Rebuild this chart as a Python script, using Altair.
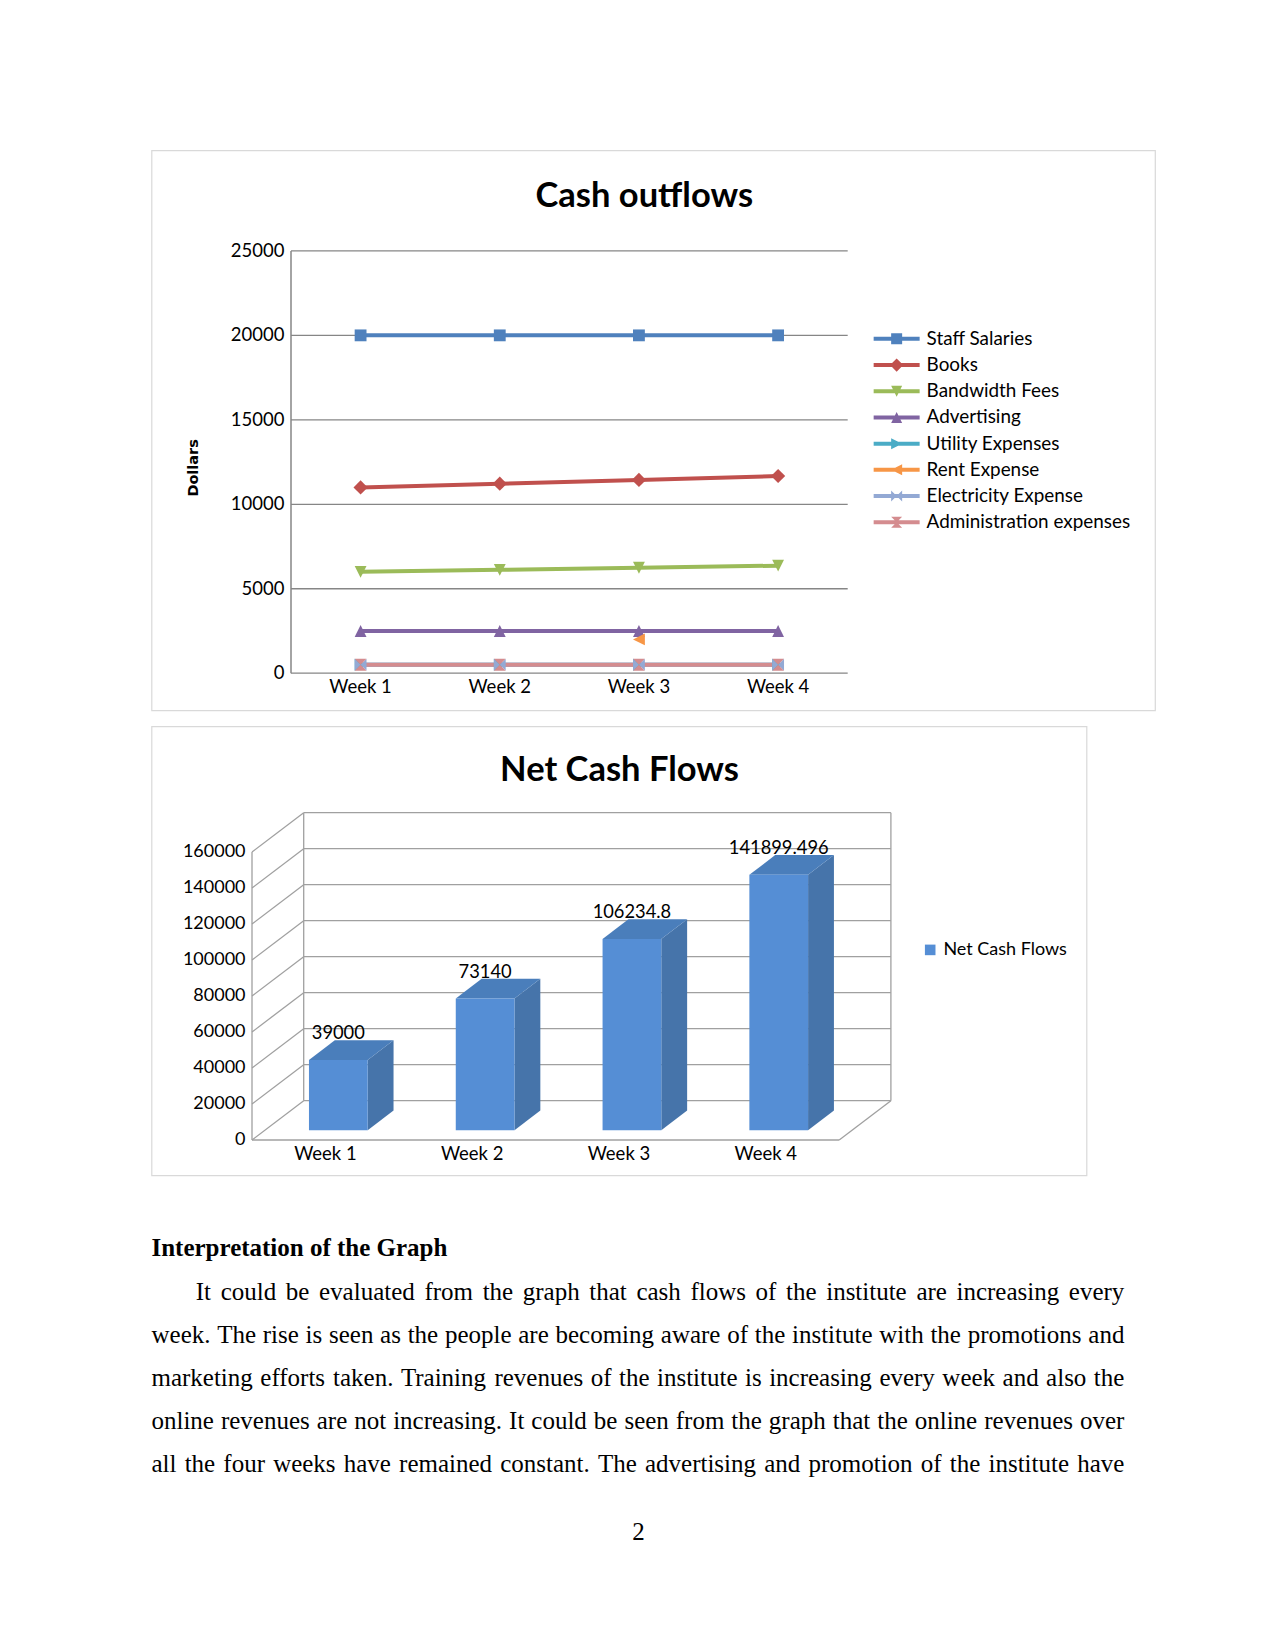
import altair as alt
import pandas as pd

# ---------------- data ----------------
weeks = ["Week 1", "Week 2", "Week 3", "Week 4"]
series_names = ["Staff Salaries", "Books", "Bandwidth Fees", "Advertising",
                "Utility Expenses", "Rent Expense", "Electricity Expense",
                "Administration expenses"]
staff_salaries = [20000, 20000, 20000, 20000]
books = [11000, 11220, 11444, 11673]
bandwidth_fees = [6000, 6120, 6242, 6367]
advertising = [2500, 2500, 2500, 2500]
utility_expenses = [500, 500, 500, 500]
rent_expense = [None, None, 2000, None]
electricity_expense = [500, 500, 500, 500]
administration_expenses = [500, 500, 500, 500]
series_values = [staff_salaries, books, bandwidth_fees, advertising,
                 utility_expenses, rent_expense, electricity_expense,
                 administration_expenses]
series_colors = ["#4F81BD", "#C0504D", "#9BBB59", "#8064A2",
                 "#4BACC6", "#F79646", "#93A9D4", "#D48C8F"]
y1_ticks = [0, 5000, 10000, 15000, 20000, 25000]
title1 = "Cash outflows"
ytitle1 = "Dollars"

net_cash_flows = [39000, 73140, 106234.8, 141899.496]
y2_ticks = [0, 20000, 40000, 60000, 80000, 100000, 120000, 140000, 160000]
title2 = "Net Cash Flows"

heading = "Interpretation of the Graph"
body_lines = [
    "It could be evaluated from the graph that cash flows of the institute are increasing every",
    "week. The rise is seen as the people are becoming aware of the institute with the promotions and",
    "marketing efforts taken. Training revenues of the institute is increasing every week and also the",
    "online revenues are not increasing. It could be seen from the graph that the online revenues over",
    "all the four weeks have remained constant. The advertising and promotion of the institute have",
]
page_number = "2"

# ---------------- styles ----------------
FONT = "Lato"
GRID = "#868686"
# all sub-paths wound the same way so that they fill solidly when combined
marker_paths = [
    "M-1,-1H1V1H-1Z",                          # square
    "M0,-1.2L1.2,0L0,1.2L-1.2,0Z",             # diamond
    "M-1,-1H1L0,1Z",                           # triangle down
    "M-1,1L0,-1L1,1Z",                         # triangle up
    "M-1,-1L1,0L-1,1Z",                        # triangle right
    "M1,-1L1,1L-1,0Z",                         # triangle left
    "M-1,-1L0,0L-1,1Z M1,-1L1,1L0,0Z",         # bow tie
    "M-1,-1H1L0,0Z M0,0L1,1H-1Z",              # hourglass
]
LEG_LINE = "M-4.18,-0.36H4.18V0.36H-4.18Z"
legend_paths = [LEG_LINE + " " + p for p in marker_paths]

# ---------------- chart 1: Cash outflows ----------------
W1, H1 = 1003.5, 560
rows = []
for name, vals in zip(series_names, series_values):
    for wi, (w, v) in enumerate(zip(weeks, vals)):
        if v is not None:
            rows.append({"wi": wi, "week": w, "series": name,
                         "series_leg": name, "value": v})
df1 = pd.DataFrame(rows)

xs1 = alt.Scale(domain=[-0.5, 3.5], range=[139.5, 696.2], nice=False, zero=False)
ys1 = alt.Scale(domain=[0, 25000], range=[522.8, 100.5], nice=False, zero=False)
color1 = alt.Scale(domain=series_names, range=series_colors)
shape1 = alt.Scale(domain=series_names, range=marker_paths)
shape_leg = alt.Scale(domain=series_names, range=legend_paths)

legend1 = alt.Legend(
    title=None, orient="none", legendX=735.7, legendY=179, padding=0,
    labelFont=FONT, labelFontSize=18.9, labelColor="black", labelLimit=400,
    symbolSize=121, labelOffset=20.5, rowPadding=6.2, symbolStrokeWidth=0,
    symbolOpacity=1,
)

X1 = lambda f: alt.X(f, scale=xs1, axis=None)
Y1 = lambda f: alt.Y(f, scale=ys1, axis=None)

grid1 = alt.Chart(pd.DataFrame({"v": y1_ticks, "xa": -0.5, "xb": 3.5})).mark_rule(
    color=GRID, strokeWidth=1.3).encode(x=X1("xa:Q"), x2="xb:Q", y=Y1("v:Q"))
yline1 = alt.Chart(pd.DataFrame({"x": [-0.5], "ya": [0], "yb": [y1_ticks[-1]]})).mark_rule(
    color=GRID, strokeWidth=1.5).encode(x=X1("x:Q"), y=Y1("ya:Q"), y2="yb:Q")
ylab1 = alt.Chart(pd.DataFrame({"v": y1_ticks, "x": -0.5,
                                "t": [str(t) for t in y1_ticks]})).mark_text(
    font=FONT, fontSize=18.5, color="black", align="right", baseline="middle",
    dx=-6.6).encode(x=X1("x:Q"), y=Y1("v:Q"), text="t:N")
xlab1 = alt.Chart(pd.DataFrame({"wi": range(4), "v": 0, "t": weeks})).mark_text(
    font=FONT, fontSize=18.5, color="black", align="center", baseline="middle",
    dy=13.7).encode(x=X1("wi:Q"), y=Y1("v:Q"), text="t:N")
ttl1 = alt.Chart(pd.DataFrame({"t": [title1]})).mark_text(
    font=FONT, fontSize=34.5, fontWeight="bold", color="black", align="center",
    baseline="middle").encode(x=alt.value(492.8), y=alt.value(46.4), text="t:N")
ytl1 = alt.Chart(pd.DataFrame({"t": [ytitle1]})).mark_text(
    font="DejaVu Sans", fontSize=14.5, fontWeight="bold", color="black",
    align="center", baseline="middle", angle=270).encode(
    x=alt.value(42.5), y=alt.value(317.5), text="t:N")

lines1 = alt.Chart(df1).mark_line(strokeWidth=4).encode(
    x=X1("wi:Q"), y=Y1("value:Q"),
    color=alt.Color("series:N", scale=color1, sort=series_names, legend=None),
    detail="series:N",
)
points1 = alt.Chart(df1).mark_point(filled=True, size=140, opacity=1).encode(
    x=X1("wi:Q"), y=Y1("value:Q"),
    color=alt.Color("series:N", scale=color1, sort=series_names, legend=None),
    shape=alt.Shape("series:N", scale=shape1, sort=series_names, legend=None),
)
legend_layer = alt.Chart(df1).mark_point(filled=True, size=121, opacity=0).encode(
    x=X1("wi:Q"), y=Y1("value:Q"),
    color=alt.Color("series_leg:N", scale=color1, sort=series_names, legend=legend1),
    shape=alt.Shape("series_leg:N", scale=shape_leg, sort=series_names, legend=legend1),
)

chart1 = alt.layer(grid1, yline1, ylab1, xlab1, ttl1, ytl1,
                   lines1, points1, legend_layer).resolve_scale(
    color="independent", shape="independent"
).properties(
    width=W1, height=H1,
    view=alt.ViewBackground(stroke="#D9D9D9", strokeWidth=1.2),
)

# ---------------- chart 2: Net Cash Flows (3-D columns) ----------------
W2, H2 = 935, 449
DX = 0.3522     # depth offset in category units
DY = 21833.0    # depth offset in dollar units

def fmt(v):
    return ("%f" % v).rstrip("0").rstrip(".")

front = pd.DataFrame({
    "week": weeks,
    "series": ["Net Cash Flows"] * 4,
    "x0": [i + 0.3 + 0.25 * DX for i in range(4)],
    "x1": [i + 0.7 + 0.25 * DX for i in range(4)],
    "y0": [0.25 * DY] * 4,
    "y1": [v + 0.25 * DY for v in net_cash_flows],
})
top_rows, side_rows = [], []
for i, (w, v) in enumerate(zip(weeks, net_cash_flows)):
    for d in (0.25, 0.75):
        top_rows.append({"week": w, "y": v + d * DY,
                         "xa": i + 0.3 + d * DX, "xb": i + 0.7 + d * DX})
        side_rows.append({"week": w, "x": i + 0.7 + d * DX,
                          "ya": d * DY, "yb": v + d * DY})
top = pd.DataFrame(top_rows)
side = pd.DataFrame(side_rows)
labels2 = pd.DataFrame({
    "x": [i + 0.5 + 0.25 * DX for i in range(4)],
    "y": [v + 0.75 * DY for v in net_cash_flows],
    "label": [fmt(v) for v in net_cash_flows],
})

wall_rows = []
for t in y2_ticks:
    wall_rows.append({"xa": 0, "xb": DX, "ya": t, "yb": t + DY})
    wall_rows.append({"xa": DX, "xb": 4 + DX, "ya": t + DY, "yb": t + DY})
wall_rows.append({"xa": DX, "xb": DX, "ya": DY, "yb": y2_ticks[-1] + DY})
wall_rows.append({"xa": 4 + DX, "xb": 4 + DX, "ya": DY, "yb": y2_ticks[-1] + DY})
wall_rows.append({"xa": 4, "xb": 4 + DX, "ya": 0, "yb": DY})
wall_rows.append({"xa": 0, "xb": 0, "ya": 0, "yb": y2_ticks[-1]})
wall_rows.append({"xa": 0, "xb": 4, "ya": 0, "yb": 0})
walls = pd.DataFrame(wall_rows)

xs2 = alt.Scale(domain=[0, 4], range=[100.5, 687.7], nice=False, zero=False)
ys2 = alt.Scale(domain=[0, 160000], range=[413.6, 125.6], nice=False, zero=False)
X2 = lambda f: alt.X(f, scale=xs2, axis=None)
Y2 = lambda f: alt.Y(f, scale=ys2, axis=None)
WALL = "#A0A0A0"

walls_layer = alt.Chart(walls).mark_rule(color=WALL, strokeWidth=1.3).encode(
    x=X2("xa:Q"), x2="xb:Q", y=Y2("ya:Q"), y2="yb:Q",
)
ylab2 = alt.Chart(pd.DataFrame({"v": y2_ticks, "x": 0,
                                "t": [str(t) for t in y2_ticks]})).mark_text(
    font=FONT, fontSize=18, color="black", align="right", baseline="middle",
    dx=-6.5).encode(x=X2("x:Q"), y=Y2("v:Q"), text="t:N")
xlab2 = alt.Chart(pd.DataFrame({"x": [i + 0.5 for i in range(4)], "v": 0,
                                "t": weeks})).mark_text(
    font=FONT, fontSize=18.5, color="black", align="center", baseline="middle",
    dy=14).encode(x=X2("x:Q"), y=Y2("v:Q"), text="t:N")
ttl2 = alt.Chart(pd.DataFrame({"t": [title2]})).mark_text(
    font=FONT, fontSize=34.5, fontWeight="bold", color="black", align="center",
    baseline="middle").encode(x=alt.value(468), y=alt.value(44.2), text="t:N")

side_layer = alt.Chart(side).mark_area(orient="vertical", color="#4674AA",
                                       opacity=1).encode(
    x=X2("x:Q"), y=Y2("yb:Q"), y2="ya:Q", detail="week:N",
)
top_layer = alt.Chart(top).mark_area(orient="horizontal", color="#4A7EBB",
                                     opacity=1).encode(
    y=Y2("y:Q"), x=X2("xa:Q"), x2="xb:Q", detail="week:N",
)
front_layer = alt.Chart(front).mark_rect(opacity=1).encode(
    x=X2("x0:Q"), x2="x1:Q", y=Y2("y0:Q"), y2="y1:Q",
    color=alt.Color("series:N",
                    scale=alt.Scale(domain=["Net Cash Flows"], range=["#558ED5"]),
                    legend=alt.Legend(title=None, orient="none", legendX=769.7,
                                      legendY=214.5, padding=0, labelFont=FONT,
                                      labelFontSize=18, labelColor="black",
                                      symbolType="square", symbolSize=112,
                                      symbolStrokeWidth=0, labelOffset=4.2)),
)
label_layer = alt.Chart(labels2).mark_text(
    font=FONT, fontSize=18.3, color="black", baseline="alphabetic", dy=-1
).encode(x=X2("x:Q"), y=Y2("y:Q"), text="label:N")

chart2 = alt.layer(walls_layer, ylab2, xlab2, ttl2, side_layer, top_layer,
                   front_layer, label_layer).properties(
    width=W2, height=H2,
    view=alt.ViewBackground(stroke="#D9D9D9", strokeWidth=1.2),
)

# ---------------- page text (justified like the document) ----------------
# Times / Liberation Serif advance widths (per 1000 em)
tnr_widths = {
    "a": 444, "b": 500, "c": 444, "d": 500, "e": 444, "f": 333, "g": 500,
    "h": 500, "i": 278, "j": 278, "k": 500, "l": 278, "m": 778, "n": 500,
    "o": 500, "p": 500, "q": 500, "r": 333, "s": 389, "t": 278, "u": 500,
    "v": 500, "w": 722, "x": 500, "y": 500, "z": 444, "I": 333, "T": 611,
    ".": 250, ",": 250, " ": 250,
}
FS = 25
LINE_LEFT = [44.3, 0, 0, 0, 0]
LINE_RIGHT = 972.9

def wwidth(word):
    return sum(tnr_widths.get(ch, 500) for ch in word) * FS / 1000.0

word_rows = []
for r, (line, left) in enumerate(zip(body_lines, LINE_LEFT), start=1):
    words = line.split(" ")
    widths = [wwidth(w) for w in words]
    gap = (LINE_RIGHT - left - sum(widths)) / (len(words) - 1)
    x = left
    for w, wd in zip(words, widths):
        word_rows.append({"row": r, "x": x, "text": w})
        x += wd + gap
text_df = pd.DataFrame(word_rows)
head_df = pd.DataFrame({"row": [0], "x": [0], "text": [heading]})
page_df = pd.DataFrame({"row": [6.56], "x": [487], "text": [page_number]})

ys3 = alt.Scale(domain=[0, 6], range=[57.1, 57.1 + 6 * 43.15], nice=False, zero=False)
xs3 = alt.Scale(domain=[0, 1000], range=[0, 1000], nice=False, zero=False)

def text_layer(df, weight, align):
    return alt.Chart(df).mark_text(
        font="Liberation Serif", fontSize=FS, fontWeight=weight,
        color="black", align=align, baseline="middle"
    ).encode(
        x=alt.X("x:Q", scale=xs3, axis=None),
        y=alt.Y("row:Q", scale=ys3, axis=None),
        text="text:N",
    )

chart3 = alt.layer(
    text_layer(head_df, "bold", "left"),
    text_layer(text_df, "normal", "left"),
    text_layer(page_df, "normal", "center"),
).properties(width=1000, height=370,
             view=alt.ViewBackground(stroke="transparent"))

chart = alt.vconcat(chart1, chart2, chart3, spacing=14).resolve_scale(
    x="independent", y="independent", color="independent", shape="independent"
).properties(
    padding={"left": 150.5, "top": 149.4, "right": 10, "bottom": 10},
    background="white",
).configure(font=FONT, view=alt.ViewConfig(stroke="transparent"))

chart.save("out.html", embed_options={"renderer": "svg", "actions": False})
